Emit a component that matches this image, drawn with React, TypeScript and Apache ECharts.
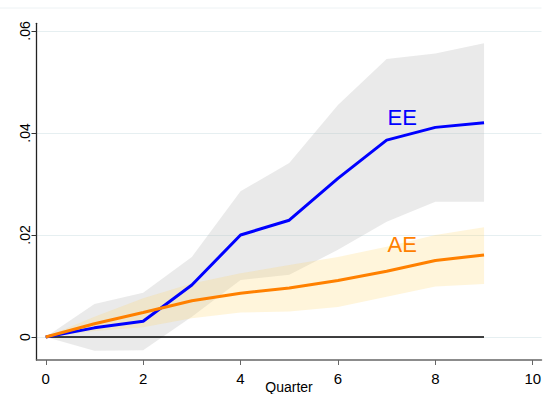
import React, { useEffect, useRef } from "react";
import * as echarts from "echarts";

const quarters = [0, 1, 2, 3, 4, 5, 6, 7, 8, 9];
const eeMean = [0, 0.0018, 0.0031, 0.0102, 0.02, 0.0229, 0.0311, 0.0386, 0.0411, 0.042];
const eeUpper = [0, 0.0065, 0.0087, 0.0157, 0.0286, 0.0341, 0.0455, 0.0545, 0.0556, 0.0576];
const eeLower = [0, -0.0027, -0.0026, 0.004, 0.0112, 0.0122, 0.0171, 0.0226, 0.0265, 0.0265];
const aeMean = [0, 0.0026, 0.0048, 0.0071, 0.0086, 0.0096, 0.0111, 0.0129, 0.015, 0.0161];
const aeUpper = [0, 0.004, 0.0076, 0.0105, 0.0125, 0.0141, 0.0157, 0.0177, 0.02, 0.0215];
const aeLower = [0, 0.0012, 0.0019, 0.0037, 0.0048, 0.005, 0.0059, 0.0079, 0.0099, 0.0104];
const xTicks = [0, 2, 4, 6, 8, 10];
const yTicks = [0, 0.02, 0.04, 0.06];
const seriesLabels = [
  { name: "EE", x: 7.32, y: 0.0431, color: "#0000ff" },
  { name: "AE", x: 7.32, y: 0.0182, color: "#ff8000" },
];

const FONT = "Liberation Sans, Arial, sans-serif";

function bandSeries(upper: number[], lower: number[], color: string, z: number) {
  return {
    type: "custom",
    silent: true,
    z,
    clip: true,
    data: quarters.map((q, i) => [q, lower[i], upper[i]]),
    encode: { x: 0, y: [1, 2] },
    renderItem: (params: any, api: any) => {
      if (params.dataIndex !== 0) return null;
      const pts: number[][] = [];
      quarters.forEach((q, i) => pts.push(api.coord([q, upper[i]])));
      for (let i = quarters.length - 1; i >= 0; i--) pts.push(api.coord([quarters[i], lower[i]]));
      return {
        type: "polygon",
        shape: { points: pts },
        style: { fill: color, stroke: "none" },
      };
    },
  };
}

export default function App() {
  const ref = useRef<HTMLDivElement>(null);
  useEffect(() => {
    if (!ref.current) return;
    const chart = echarts.init(ref.current, undefined, { renderer: "svg" });
    const pairs = (ys: number[]) => quarters.map((q, i) => [q, ys[i]]);
    chart.setOption({
      animation: false,
      backgroundColor: "#ffffff",
      textStyle: { fontFamily: FONT },
      grid: { left: 36.5, right: 4.5, top: 23.3, bottom: 34, outerBoundsMode: "none", containLabel: false },
      xAxis: {
        type: "value",
        min: -0.19,
        max: 10.18,
        name: "Quarter",
        nameLocation: "middle",
        nameGap: 19.5,
        nameMoveOverlap: false,
        nameTextStyle: { fontFamily: FONT, fontSize: 14, color: "#000", verticalAlign: "top" },
        axisLine: { show: true, onZero: false, lineStyle: { color: "#666", width: 1.5 } },
        axisTick: { show: true, length: 5, customValues: xTicks, lineStyle: { color: "#666", width: 1 } },
        axisLabel: { customValues: xTicks, fontFamily: FONT, fontSize: 15, color: "#000", margin: 11 },
        splitLine: { show: false },
      },
      yAxis: {
        type: "value",
        min: -0.0045,
        max: 0.0615,
        axisLine: { show: true, onZero: false, lineStyle: { color: "#222", width: 1.3 } },
        axisTick: { show: true, length: 5, customValues: yTicks, lineStyle: { color: "#333", width: 1 } },
        axisLabel: {
          customValues: yTicks,
          rotate: 90,
          fontFamily: FONT,
          fontSize: 14,
          color: "#000",
          margin: 5,
          formatter: (v: number) => (v === 0 ? "0" : v.toFixed(2).replace(/^0/, "")),
        },
        splitLine: { show: true, lineStyle: { color: "#e6eff1", width: 1 } },
      },
      graphic: [
        {
          type: "line",
          shape: { x1: 0, y1: 8, x2: 541.5, y2: 8 },
          style: { stroke: "#edf2f4", lineWidth: 1 },
          silent: true,
        },
      ],
      series: [
        bandSeries(eeUpper, eeLower, "rgba(185,185,185,0.3)", 1),
        {
          type: "line",
          data: [[0, 0], [9, 0]],
          symbol: "none",
          lineStyle: { color: "#000", width: 1.5 },
          silent: true,
          z: 2,
        },
        {
          type: "line",
          data: pairs(eeMean),
          symbol: "none",
          lineStyle: { color: "#0000ff", width: 3 },
          z: 2,
        },
        bandSeries(aeUpper, aeLower, "rgba(255,210,100,0.23)", 2),
        {
          type: "line",
          data: pairs(aeMean),
          symbol: "none",
          lineStyle: { color: "#ff8000", width: 3 },
          z: 3,
        },
        {
          type: "scatter",
          symbolSize: 1,
          itemStyle: { color: "rgba(0,0,0,0)" },
          silent: true,
          z: 4,
          data: seriesLabels.map((l) => ({
            value: [l.x, l.y],
            label: {
              show: true,
              position: "inside",
              formatter: l.name,
              color: l.color,
              textBorderWidth: 0,
              opacity: 1,
              fontFamily: FONT,
              fontSize: 22,
            },
          })),
        },
      ],
    });
    return () => chart.dispose();
  }, []);
  return (
    <div
      ref={ref}
      style={{ position: "fixed", left: 0, top: 0, width: 546, height: 394, background: "#fff" }}
    />
  );
}
